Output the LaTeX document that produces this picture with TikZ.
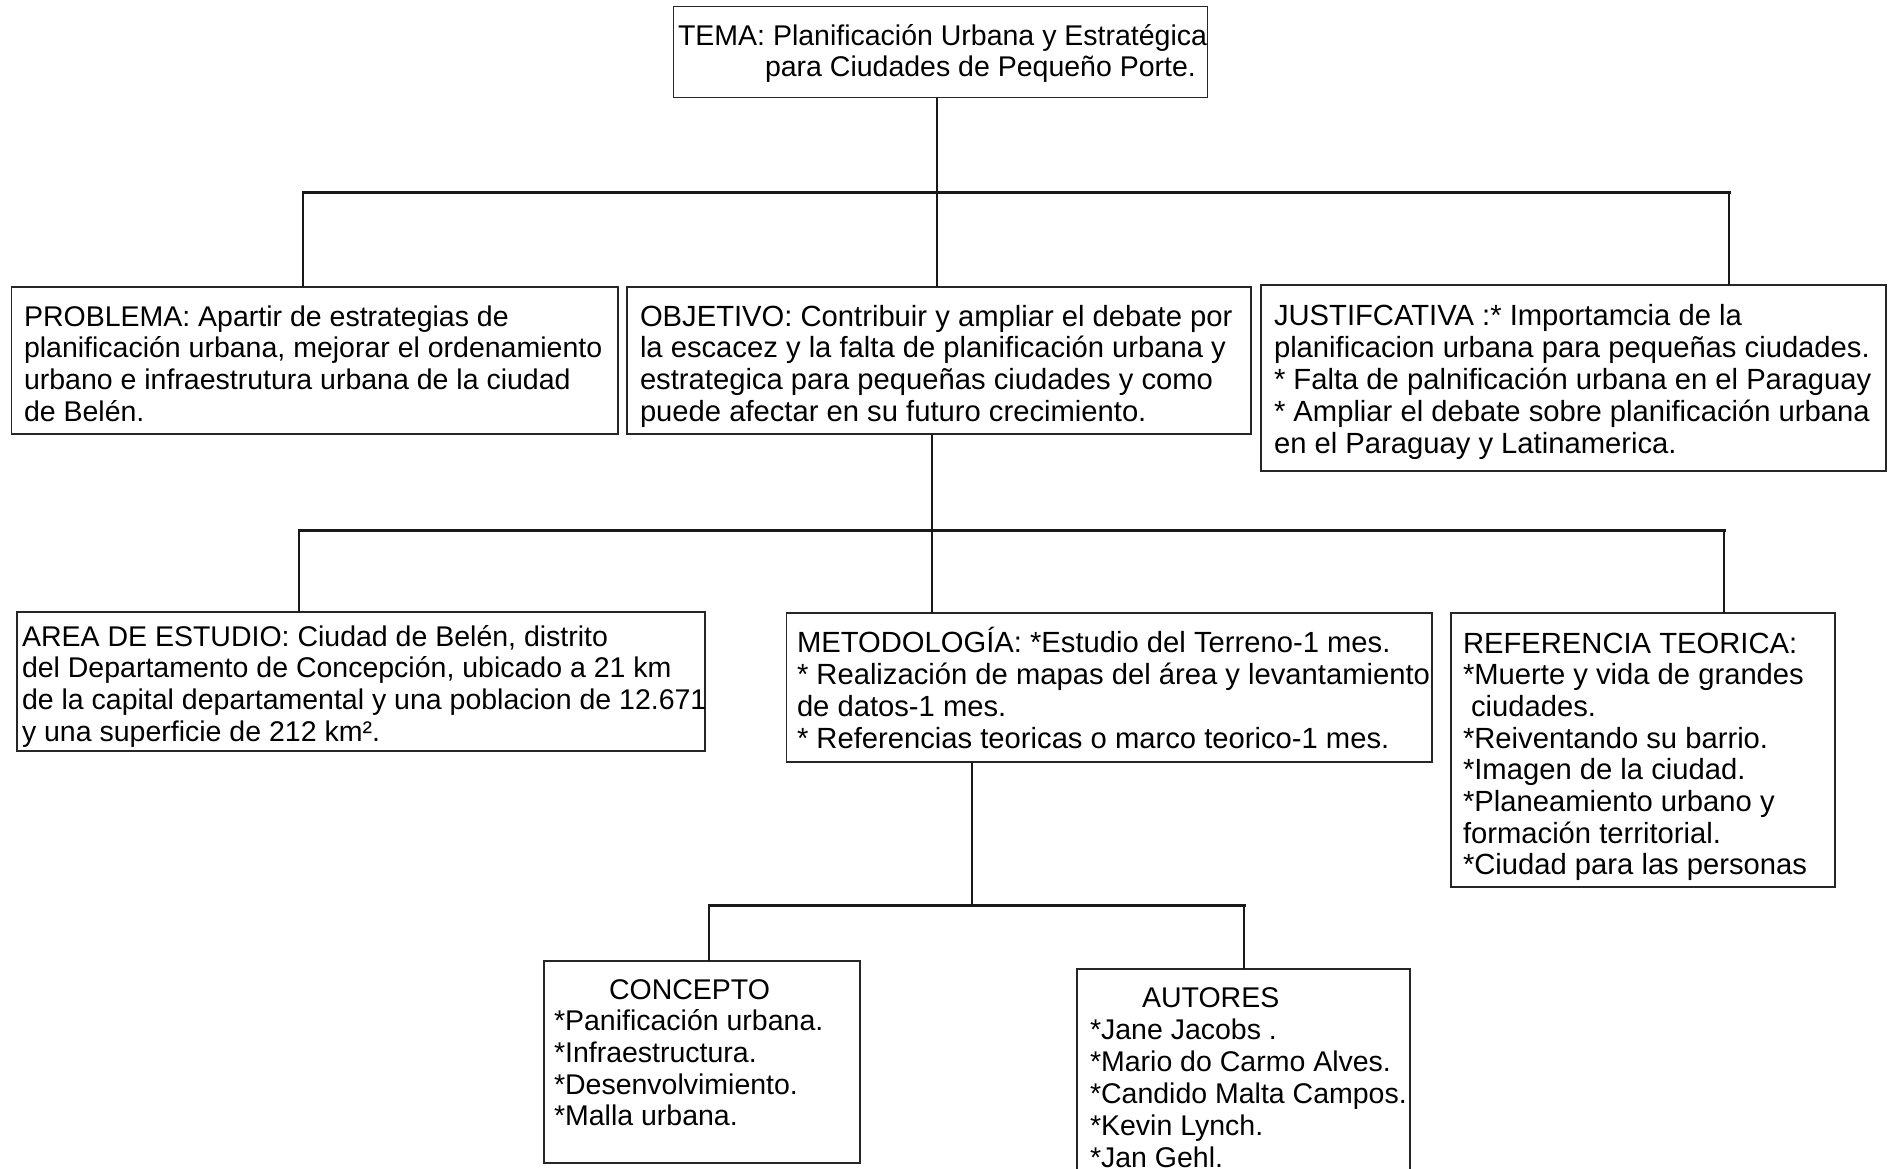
\documentclass[tikz,border=0pt]{standalone}
\usepackage{fontspec}
\setmainfont{Liberation Sans}
\newcommand\tlines[1]{\parbox[t]{760pt}{\lineskiplimit=-200pt\raggedright #1}}
\tikzset{
  boxn/.style={draw=black!85, line width=1.5pt, rectangle, inner sep=0pt, outer sep=0pt, anchor=north west},
  txt/.style={anchor=base west, inner sep=0pt, outer sep=0pt, font=\fontsize{28.5}{31.8}\selectfont, text=black},
  txtl/.style={txt, font=\fontsize{29.2}{32}\selectfont},
  conn/.style={draw=black!90, line width=1.8pt},
  barline/.style={draw=black!90, line width=3pt, line cap=rect},
}
\begin{document}
\begin{tikzpicture}[x=1pt,y=-1pt]
\useasboundingbox (0,0) rectangle (1892,1168);
\fill[white] (0,0) rectangle (1892,1168);
\clip (0,0) rectangle (1892,1168);

% boxes
\node[boxn, minimum width=534pt, minimum height=91pt] (tema) at (673.5,6.7) {};
\node[boxn, minimum width=606.5pt, minimum height=147pt] (prob) at (11.5,287) {};
\node[boxn, minimum width=624pt, minimum height=147pt] (obj) at (627,287) {};
\node[boxn, minimum width=625pt, minimum height=186pt] (just) at (1261,285) {};
\node[boxn, minimum width=688pt, minimum height=139pt] (area) at (17,612) {};
\node[boxn, minimum width=645.5pt, minimum height=149pt] (met) at (786.5,613) {};
\node[boxn, minimum width=384pt, minimum height=274pt] (ref) at (1451,613) {};
\node[boxn, minimum width=316pt, minimum height=202pt] (conc) at (544,961) {};
\node[boxn, minimum width=333pt, minimum height=230pt] (aut) at (1077,969) {};

% texts
\node[txt] (tema-t) at (678,45) {\tlines{TEMA: Planificación Urbana y Estratégica\\
\hspace*{87pt}para Ciudades de Pequeño Porte.}};
\node[txt] (prob-t) at (24,326) {\tlines{PROBLEMA: Apartir de estrategias de\\
planificación urbana, mejorar el ordenamiento\\
urbano e infraestrutura urbana de la ciudad\\
de Belén.}};
\node[txtl, font=\fontsize{29.2}{31.8}\selectfont] (obj-t) at (640,326) {\tlines{OBJETIVO: Contribuir y ampliar el debate por\\
la escacez y la falta de planificación urbana y\\
estrategica para pequeñas ciudades y como\\
puede afectar en su futuro crecimiento.}};
\node[txtl] (just-t) at (1274,325) {\tlines{JUSTIFCATIVA :* Importamcia de la\\
planificacion urbana para pequeñas ciudades.\\{}
* Falta de palnificación urbana en el Paraguay\\{}
* Ampliar el debate sobre planificación urbana\\
en el Paraguay y Latinamerica.}};
\node[txt] (area-t) at (22,646) {\tlines{AREA DE ESTUDIO: Ciudad de Belén, distrito\\
del Departamento de Concepción, ubicado a 21 km\\
de la capital departamental y una poblacion de 12.671\\
y una superficie de 212 km².}};
\node[txtl, font=\fontsize{29.2}{32.2}\selectfont] (met-t) at (797,652) {\tlines{METODOLOGÍA: *Estudio del Terreno-1 mes.\\{}
* Realización de mapas del área y levantamiento\\
de datos-1 mes.\\{}
* Referencias teoricas o marco teorico-1 mes.}};
\node[txtl, font=\fontsize{29.2}{31.7}\selectfont] (ref-t) at (1463,653) {\tlines{REFERENCIA TEORICA:\\{}
*Muerte y vida de grandes\\
\hspace*{8pt}ciudades.\\{}
*Reiventando su barrio.\\{}
*Imagen de la ciudad.\\{}
*Planeamiento urbano y\\
formación territorial.\\{}
*Ciudad para las personas}};
\node[txt, font=\fontsize{28.5}{31.7}\selectfont] (conc-t) at (554,999) {\tlines{\hspace*{55pt}CONCEPTO\\{}
*Panificación urbana.\\{}
*Infraestructura.\\{}
*Desenvolvimiento.\\{}
*Malla urbana.}};
\node[txt, font=\fontsize{28.5}{32}\selectfont] (aut-t) at (1090,1007) {\tlines{\hspace*{52pt}AUTORES\\{}
*Jane Jacobs .\\{}
*Mario do Carmo Alves.\\{}
*Candido Malta Campos.\\{}
*Kevin Lynch.\\{}
*Jan Gehl.}};

% junction points
\coordinate (b1l) at (303,192);
\coordinate (b1m) at (937,192);
\coordinate (b1r) at (1729,192);
\coordinate (b2l) at (299,530);
\coordinate (b2m) at (932,530);
\coordinate (b2r) at (1724,530);
\coordinate (b3l) at (709,905.5);
\coordinate (b3m) at (972,905.5);
\coordinate (b3r) at (1244,905.5);

% level 1
\draw[conn] (b1m |- tema.south) -- (b1m);
\draw[barline] (b1l) -- (b1r);
\draw[conn] (b1l) -- (b1l |- prob.north);
\draw[conn] (b1m) -- (b1m |- obj.north);
\draw[conn] (b1r) -- (b1r |- just.north);
% level 2
\draw[conn] (b2m |- obj.south) -- (b2m);
\draw[barline] (b2l) -- (b2r);
\draw[conn] (b2l) -- (b2l |- area.north);
\draw[conn] (b2m) -- (b2m |- met.north);
\draw[conn] (b2r) -- (b2r |- ref.north);
% level 3
\draw[conn] (b3m |- met.south) -- (b3m);
\draw[barline] (b3l) -- (b3r);
\draw[conn] (b3l) -- (b3l |- conc.north);
\draw[conn] (b3r) -- (b3r |- aut.north);
\end{tikzpicture}
\end{document}
